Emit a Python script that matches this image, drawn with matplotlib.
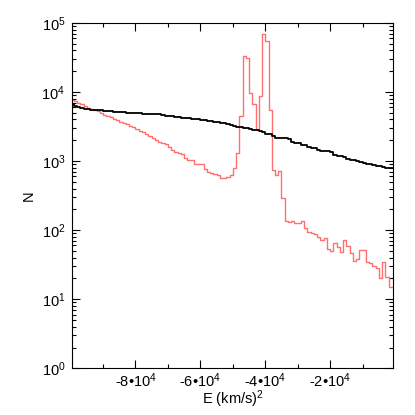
import numpy as np
import matplotlib
matplotlib.use("Agg")
import matplotlib.pyplot as plt
from matplotlib.ticker import FixedLocator, LogLocator, NullFormatter

plt.rcParams['font.family'] = ['Liberation Sans', 'DejaVu Sans']
plt.rcParams['mathtext.fontset'] = 'custom'
plt.rcParams['mathtext.rm'] = 'Liberation Sans'
plt.rcParams['mathtext.it'] = 'Liberation Sans:italic'
plt.rcParams['mathtext.bf'] = 'Liberation Sans:bold'

# Bin centres of the energy histogram (km/s)^2, bin width 1000
energy = np.arange(-99500, 0, 1000)

# Red histogram counts (one per bin)
n_red = [7600, 7300, 7000, 6600, 6200, 5900, 5700, 5500, 5350, 5000,
         4700, 4500, 4300, 4100, 3900, 3700, 3550, 3400, 3200, 3100,
         2950, 2750, 2600, 2450, 2300, 2150, 2000, 1870, 1800, 1750,
         1620, 1440, 1350, 1300, 1250, 1100, 1050, 1050, 920, 920,
         920, 770, 700, 680, 640, 630, 570, 560, 580, 620,
         780, 1290, 4500, 33000, 31000, 9500, 6600, 2900, 8800, 70000,
         54000, 5400, 740, 620, 710, 290, 135, 133, 135, 128,
         128, 137, 106, 95, 92, 88, 80, 73, 76, 54,
         50, 66, 57, 48, 72, 59, 46, 36, 38, 51,
         51, 34, 33, 30, 28, 20, 34, 21, 15, 15]

# Black histogram counts (one per bin)
n_black = [6600, 6300, 6000, 5800, 5700, 5600, 5550, 5500, 5450, 5400,
           5350, 5300, 5250, 5200, 5150, 5100, 5050, 5000, 4950, 4900,
           4880, 4900, 4870, 4850, 4820, 4800, 4760, 4720, 4620, 4550,
           4500, 4450, 4400, 4330, 4250, 4150, 4150, 4100, 4080, 4050,
           3980, 3900, 3850, 3800, 3720, 3650, 3580, 3500, 3400, 3300,
           3220, 3150, 3100, 3050, 2980, 2900, 2850, 2850, 2700, 2620,
           2500, 2440, 2300, 2150, 2130, 2130, 2130, 2050, 1900, 1850,
           1800, 1720, 1680, 1620, 1560, 1520, 1450, 1410, 1400, 1380,
           1350, 1240, 1200, 1170, 1130, 1080, 1050, 1030, 1000, 970,
           950, 920, 900, 880, 860, 840, 820, 800, 790, 780]

x_major = [-80000, -60000, -40000, -20000]
x_major_labels = ['-8\u2022$10^4$', '-6\u2022$10^4$', '-4\u2022$10^4$', '-2\u2022$10^4$']
x_minor = [-90000, -70000, -50000, -30000, -10000]
y_major = [1, 10, 100, 1000, 10000, 100000]
y_major_labels = ['$10^0$', '$10^1$', '$10^2$', '$10^3$', '$10^4$', '$10^5$']

fig = plt.figure(figsize=(4.15, 4.15), dpi=100)
ax = fig.add_axes([0.174, 0.1125, 0.774, 0.8325])

ax.step(energy, n_red, where='mid', color='#ff7070', lw=1.0)
ax.step(energy, n_black, where='mid', color='black', lw=1.3)

ax.set_yscale('log')
ax.set_xlim(energy[0], energy[-1])
ax.set_ylim(1, 1e5)

ax.xaxis.set_major_locator(FixedLocator(x_major))
ax.set_xticklabels(x_major_labels)
ax.xaxis.set_minor_locator(FixedLocator(x_minor))
ax.yaxis.set_major_locator(FixedLocator(y_major))
ax.set_yticklabels(y_major_labels)
ax.yaxis.set_minor_locator(LogLocator(base=10, subs=np.arange(2, 10)))
ax.yaxis.set_minor_formatter(NullFormatter())

ax.tick_params(which='both', direction='in', top=True, right=True, labelsize=10.5, width=0.8)
ax.tick_params(which='major', length=6)
ax.tick_params(which='minor', length=3)
ax.tick_params(axis='x', pad=2.5)
ax.tick_params(axis='y', pad=5)
for s in ax.spines.values():
    s.set_linewidth(0.8)

ax.set_xlabel('E (km/s)$^2$', fontsize=10.5, labelpad=-1.5)
ax.set_ylabel('N', fontsize=10.5, labelpad=4)

fig.savefig('out.png', dpi=100)
